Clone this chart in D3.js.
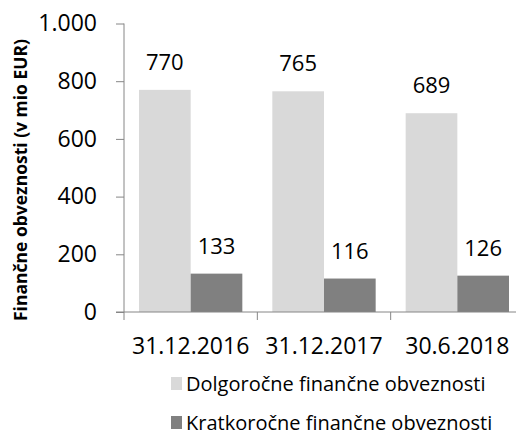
<!DOCTYPE html>
<html>
<head>
    <meta charset="utf-8">
    <script src="https://cdn.jsdelivr.net/npm/d3@7/dist/d3.min.js"></script>
    <style>
        body { margin: 0; background: #fff; }
        text { font-family: "Open Sans", "Liberation Sans", sans-serif; fill: #000; }
    </style>
</head>
<body>
    <div id="chart"></div>
    <script>
        // chart data
        var categories = ["31.12.2016", "31.12.2017", "30.6.2018"];
        var seriesNames = ["Dolgoročne finančne obveznosti", "Kratkoročne finančne obveznosti"];
        var longTerm = [770, 765, 689];
        var shortTerm = [133, 116, 126];
        var yTicks = [0, 200, 400, 600, 800, 1000];
        var yTickLabels = ["0", "200", "400", "600", "800", "1.000"];
        var colors = ["#d9d9d9", "#808080"];

        var W = 516, H = 436;
        var svg = d3.select("#chart").append("svg")
            .attr("width", W).attr("height", H);

        var x0 = d3.scaleBand().domain(categories).range([124, 524]).paddingInner(0).paddingOuter(0);
        var x1 = d3.scaleBand().domain([0, 1]).range([15, x0.bandwidth() - 15]);
        var y = d3.scaleLinear().domain([0, 1000]).range([312, 23.5]);

        var axisColor = "#868686";

        // bars
        var series = [longTerm, shortTerm];
        series.forEach(function (vals, si) {
            svg.append("g").selectAll("rect")
                .data(vals).enter().append("rect")
                .attr("x", function (d, i) { return x0(categories[i]) + x1(si); })
                .attr("y", function (d) { return y(d); })
                .attr("width", x1.bandwidth())
                .attr("height", function (d) { return y(0) - y(d); })
                .attr("fill", colors[si]);

            svg.append("g").selectAll("text")
                .data(vals).enter().append("text")
                .attr("x", function (d, i) { return x0(categories[i]) + x1(si) + x1.bandwidth() / 2; })
                .attr("y", function (d) { return y(d) - 20; })
                .attr("text-anchor", "middle")
                .style("font-size", "22px")
                .text(function (d) { return d; });
        });

        // y axis
        var yAxis = d3.axisLeft(y).tickValues(yTicks)
            .tickFormat(function (d, i) { return yTickLabels[i]; })
            .tickSize(8).tickPadding(19);
        var gy = svg.append("g").attr("transform", "translate(124,0)").call(yAxis);
        gy.select(".domain").attr("stroke", axisColor).attr("d", "M0," + y(1000) + "V" + y(0));
        gy.selectAll(".tick line").attr("stroke", axisColor);
        gy.selectAll(".tick text").style("font-size", "23px").attr("font-family", null);

        // x axis
        var gx = svg.append("g").attr("transform", "translate(0," + y(0) + ")");
        gx.append("line").attr("x1", 116).attr("x2", 524).attr("stroke", axisColor);
        var xTickPos = categories.map(function (c) { return x0(c); });
        gx.selectAll(".xt").data(xTickPos).enter().append("line")
            .attr("x1", function (d) { return d; }).attr("x2", function (d) { return d; })
            .attr("y1", 0).attr("y2", 8).attr("stroke", axisColor);
        gx.selectAll(".xl").data(categories).enter().append("text")
            .attr("x", function (d) { return x0(d) + x0.bandwidth() / 2; })
            .attr("y", 42)
            .attr("text-anchor", "middle")
            .style("font-size", "23px")
            .text(function (d) { return d; });

        // y title
        svg.append("text")
            .attr("transform", "translate(27,180) rotate(-90)")
            .attr("text-anchor", "middle")
            .style("font-size", "17.5px")
            .style("font-weight", "bold")
            .text("Finančne obveznosti (v mio EUR)");

        // legend
        var legend = svg.append("g").selectAll("g")
            .data(seriesNames).enter().append("g")
            .attr("transform", function (d, i) { return "translate(171," + (377 + i * 39) + ")"; });
        legend.append("rect").attr("width", 11).attr("height", 13)
            .attr("fill", function (d, i) { return colors[i]; });
        legend.append("text").attr("x", 15).attr("y", 14)
            .style("font-size", "20px")
            .text(function (d) { return d; });
    </script>
</body>
</html>
